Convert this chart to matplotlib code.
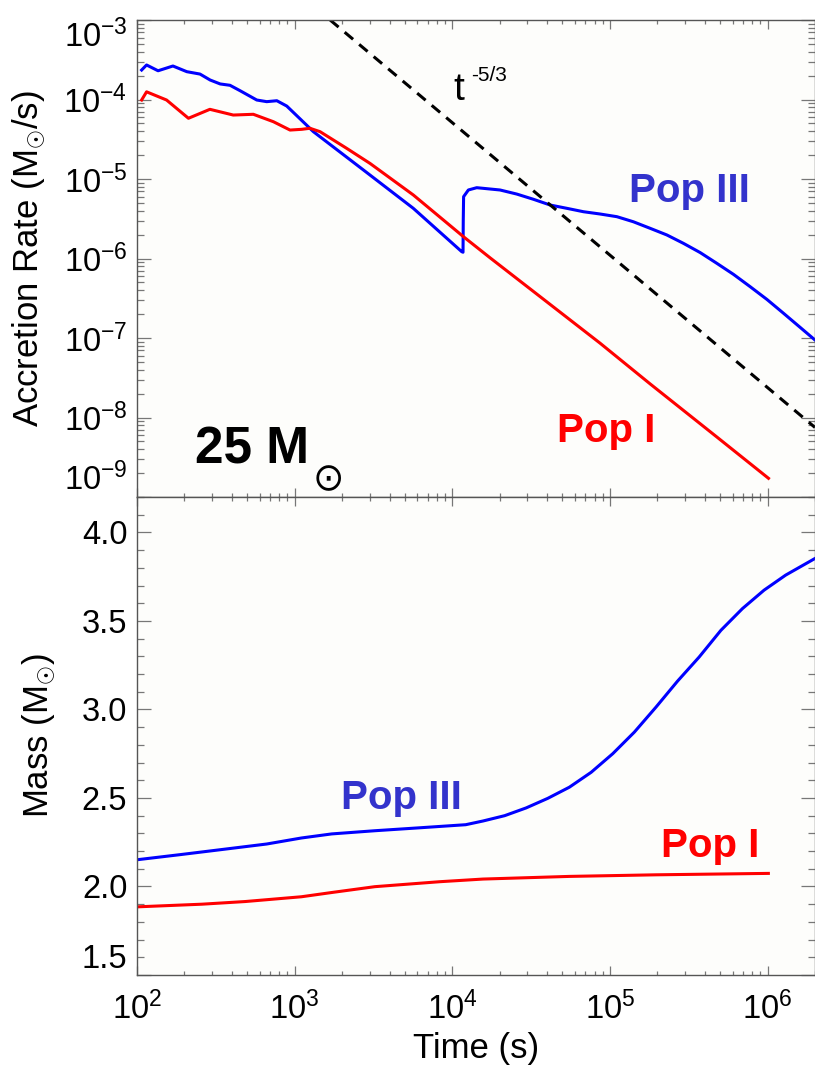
import numpy as np
import matplotlib
matplotlib.use('Agg')
import matplotlib.pyplot as plt
from matplotlib.ticker import LogLocator, NullFormatter, MultipleLocator, FormatStrFormatter

plt.rcParams['font.family'] = ['Liberation Sans', 'DejaVu Sans']
plt.rcParams['mathtext.fontset'] = 'custom'
plt.rcParams['mathtext.rm'] = 'Liberation Sans'
plt.rcParams['mathtext.it'] = 'Liberation Sans:italic'
plt.rcParams['mathtext.bf'] = 'Liberation Sans:bold'

# accretion rate, Pop III (blue)
t_acc3 = [107, 115, 136, 169, 207, 251, 291, 337, 389, 451, 575, 665, 771, 891, 1090,
          1315, 2730, 5660, 11480, 11700, 11740, 11800, 12650, 14290, 20090, 25650,
          32730, 41780, 53330, 67920, 86700, 110700, 140900, 179900, 229600, 293100,
          373300, 476400, 608100, 776200, 990800, 1.262e6, 1.611e6, 2.0e6]
acc3 = [2.35e-4, 2.72e-4, 2.30e-4, 2.64e-4, 2.24e-4, 2.09e-4, 1.76e-4, 1.57e-4, 1.51e-4,
        1.29e-4, 9.86e-5, 9.40e-5, 9.66e-5, 8.28e-5, 5.64e-5,
        3.94e-5, 1.30e-5, 4.28e-6, 1.22e-6, 1.20e-6, 3.0e-6, 6.0e-6, 7.28e-6, 7.78e-6,
        7.28e-6, 6.47e-6, 5.56e-6, 4.71e-6, 4.28e-6, 3.88e-6, 3.63e-6, 3.36e-6, 2.90e-6,
        2.40e-6, 1.98e-6, 1.55e-6, 1.19e-6, 8.71e-7, 6.32e-7, 4.42e-7, 3.06e-7, 2.05e-7,
        1.36e-7, 9.44e-8]

# accretion rate, Pop I (red)
t_acc1 = [107, 115, 154, 212, 290, 408, 547, 733, 935, 1110, 1250, 1450, 2140, 3010,
          5660, 11780, 17380, 39810, 86700, 179900, 476400, 1.014e6]
acc1 = [9.86e-5, 1.25e-4, 9.86e-5, 5.81e-5, 7.53e-5, 6.38e-5, 6.52e-5, 5.26e-5, 4.13e-5,
        4.22e-5, 4.35e-5, 3.94e-5, 2.43e-5, 1.57e-5, 6.30e-6, 1.88e-6, 1.02e-6, 2.85e-7,
        8.6e-8, 2.65e-8, 5.70e-9, 1.72e-9]

# t^-5/3 reference line
t_ref = [1.68e3, 2.0e6]
acc_ref = [1.0e-3, 7.5e-9]

# enclosed mass
t_m3 = [100, 188, 354, 665, 1104, 1718, 3228, 6067, 12160, 15670, 21480, 29440, 40360,
        55340, 76030, 104200, 142900, 195900, 268500, 368100, 505800, 693400, 950600,
        1.303e6, 2.0e6]
m3 = [2.151, 2.180, 2.210, 2.240, 2.274, 2.297, 2.315, 2.331, 2.349, 2.370, 2.400, 2.444,
      2.498, 2.561, 2.645, 2.750, 2.872, 3.013, 3.160, 3.296, 3.447, 3.570, 3.674,
      3.759, 3.853]
t_m1 = [100, 258, 485, 1104, 1718, 3228, 8318, 15670, 55340, 195900, 1.012e6]
m1 = [1.885, 1.900, 1.915, 1.942, 1.966, 1.999, 2.027, 2.042, 2.057, 2.066, 2.074]

fig = plt.figure(figsize=(8.15, 10.65), dpi=100)
ax1 = fig.add_axes([0.1681, 0.5333, 0.8319, 0.4479])
ax2 = fig.add_axes([0.1681, 0.0845, 0.8319, 0.4488], sharex=ax1)

ax1.plot(t_acc3, acc3, color='#0000ff', lw=2.2)
ax1.plot(t_acc1, acc1, color='#ff0000', lw=2.2)
ax1.plot(t_ref, acc_ref, color='black', lw=2.2, dashes=(3.6, 2.6))

ax2.plot(t_m3, m3, color='#0000ff', lw=2.2)
ax2.plot(t_m1, m1, color='#ff0000', lw=2.2)

ax1.set_xscale('log')
ax1.set_yscale('log')
ax1.set_xlim(1e2, 2e6)
ax1.set_ylim(1e-9, 1e-3)
ax2.set_ylim(1.5, 4.2)

for ax in (ax1, ax2):
    ax.set_facecolor('#fdfdfb')
    for s in ax.spines.values():
        s.set_color('#555555')
        s.set_linewidth(1.0)
    ax.tick_params(which='both', direction='in', top=True, right=True,
                   color='#777777', width=0.9, labelsize=23.5)
    ax.tick_params(axis='x', which='major', length=6.5, pad=12)
    ax.tick_params(axis='x', which='minor', length=3.2)
    ax.tick_params(axis='y', which='major', length=10, pad=7)
    ax.tick_params(axis='y', which='minor', length=5)
    ax.xaxis.set_major_locator(LogLocator(base=10, numticks=10))
    ax.xaxis.set_minor_locator(LogLocator(base=10, subs=np.arange(2, 10), numticks=10))
    ax.xaxis.set_minor_formatter(NullFormatter())

ax1.yaxis.set_major_locator(LogLocator(base=10, numticks=10))
ax1.yaxis.set_minor_locator(LogLocator(base=10, subs=np.arange(2, 10), numticks=10))
ax1.yaxis.set_minor_formatter(NullFormatter())
ax1.tick_params(axis='x', labelbottom=False)

ax2.yaxis.set_major_locator(MultipleLocator(0.5))
ax2.yaxis.set_minor_locator(MultipleLocator(0.1))
ax2.yaxis.set_major_formatter(FormatStrFormatter('%.1f'))

ax1.set_ylabel(r'Accretion Rate (M$_{\odot}$/s)', fontsize=25)
ax1.yaxis.set_label_coords(-0.131, 0.5)
ax2.set_ylabel(r'Mass (M$_{\odot}$)', fontsize=25)
ax2.yaxis.set_label_coords(-0.1165, 0.5)
ax2.set_xlabel('Time (s)', fontsize=25, labelpad=4)

# annotations
ax1.text(0.466, 0.832, 't', transform=ax1.transAxes, fontsize=28, va='baseline')
ax1.text(0.493, 0.872, '-5/3', transform=ax1.transAxes, fontsize=15, va='baseline')
ax1.text(0.726, 0.618, 'Pop III', transform=ax1.transAxes, fontsize=29,
         fontweight='bold', color='#3333cc', va='baseline')
ax1.text(0.619, 0.115, 'Pop I', transform=ax1.transAxes, fontsize=29,
         fontweight='bold', color='#ff0000', va='baseline')
ax1.text(0.0855, 0.0713, '25 M', transform=ax1.transAxes, fontsize=37,
         fontweight='bold', color='black', va='baseline')
ax1.text(0.259, 0.015, '\u2299', transform=ax1.transAxes, fontsize=27,
         family='DejaVu Sans', color='black', va='baseline')
ax2.text(0.301, 0.347, 'Pop III', transform=ax2.transAxes, fontsize=29,
         fontweight='bold', color='#3333cc', va='baseline')
ax2.text(0.773, 0.247, 'Pop I', transform=ax2.transAxes, fontsize=29,
         fontweight='bold', color='#ff0000', va='baseline')

fig.canvas.draw()
for tk in ax1.yaxis.get_major_ticks():
    if abs(np.log10(tk.get_loc()) + 9) < 1e-6:
        tk.label1.set_va('bottom')
    if abs(np.log10(tk.get_loc()) + 3) < 1e-6:
        tk.label1.set_va('top')
for tk in ax2.yaxis.get_major_ticks():
    if abs(tk.get_loc() - 1.5) < 1e-6:
        tk.label1.set_va('bottom')

fig.savefig('out.png', dpi=100)
